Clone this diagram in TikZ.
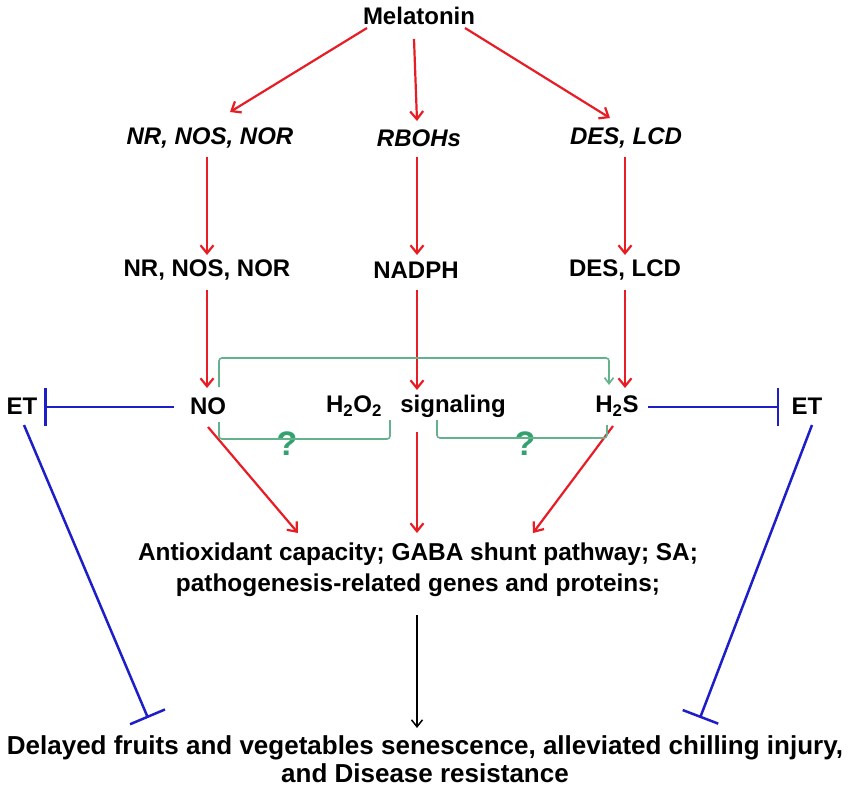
\documentclass[tikz,border=0pt]{standalone}
\usepackage{fontspec}
\setmainfont{Liberation Sans}
\usetikzlibrary{arrows.meta,calc}
\definecolor{rr}{RGB}{232,28,36}
\definecolor{bb}{RGB}{30,30,200}
\definecolor{gg}{RGB}{100,178,140}
\definecolor{gq}{RGB}{52,162,112}
\begin{document}
\begin{tikzpicture}[x=1pt,y=-1pt,
  txt/.style={font=\fontsize{24}{31}\selectfont\bfseries, inner sep=0pt},
  itx/.style={font=\fontsize{24}{28}\selectfont\bfseries\itshape, inner sep=0pt},
  ra/.style={draw=rr, line width=2.2pt, -{Straight Barb[length=8pt,width=13pt]}},
  ka/.style={draw=black, line width=1.5pt, -{Straight Barb[length=7pt,width=11pt]}},
  ib/.style={draw=bb, line width=2.5pt, -{Bar[width=38pt]}},
  gl/.style={draw=gg, line width=1.6pt, rounded corners=3pt},
  qm/.style={font=\fontsize{34}{34}\selectfont\bfseries, text=gq, inner sep=0pt}]
\useasboundingbox (0,0) rectangle (851,792);
% nodes
\node[txt] (mel) at (419,16) {Melatonin};
\node[itx] (g1) at (210,138) {NR, NOS, NOR};
\node[itx] (g2) at (419,138) {RBOHs};
\node[itx] (g3) at (626,138) {DES, LCD};
\node[txt] (p1) at (207,270) {NR, NOS, NOR};
\node[txt] (p2) at (416,270) {NADPH};
\node[txt] (p3) at (625,270) {DES, LCD};
\node[txt] (etl) at (22,406) {ET};
\node[txt] (no) at (208,406) {NO};
\node[txt] (h2o2) at (354,406) {H\textsubscript{2}O\textsubscript{2}};
\node[txt] (sig) at (453,406) {signaling};
\node[txt] (h2s) at (617,406) {H\textsubscript{2}S};
\node[txt] (etr) at (807,406) {ET};
\node[txt, font=\fontsize{24.4}{31}\selectfont\bfseries, align=center] (anti) at (418,570) {Antioxidant capacity; GABA shunt pathway; SA;\\ pathogenesis-related genes and proteins;};
\node[font=\fontsize{26}{28}\selectfont\bfseries, inner sep=0pt, align=center] (fin) at (425,759)
  {Delayed fruits and vegetables senescence, alleviated chilling injury,\\
   and Disease resistance};
\node[qm] (q1) at (287,444) {?};
\node[qm] (q2) at (525,444) {?};
% red arrows
\draw[ra] ($(mel)+(-52,12)$) -- ($(g1)+(20,-26)$);
\draw[ra] ($(mel)+(-5,23)$) -- ($(g2)+(-2,-17)$);
\draw[ra] ($(mel)+(46,12)$) -- ($(g3)+(-16,-20)$);
\draw[ra] ($(g1)+(-3,19)$) -- ($(p1)+(0,-15)$);
\draw[ra] ($(g2)+(-2,19)$) -- ($(p2)+(1,-15)$);
\draw[ra] ($(g3)+(-1,19)$) -- ($(p3)+(0,-15)$);
\draw[ra] ($(p1)+(0,20)$) -- ($(no)+(-1,-18)$);
\draw[ra] ($(p2)+(1,20)$) -- ($(sig)+(-36,-16)$);
\draw[ra] ($(p3)+(0,20)$) -- ($(h2s)+(8,-18)$);
\draw[ra] ($(no)+(0,21)$) -- ($(anti)+(-120,-37)$);
\draw[ra] ($(sig)+(-36,26)$) -- ($(anti)+(-1,-37)$);
\draw[ra] ($(h2s)+(-4,20)$) -- ($(anti)+(115,-37)$);
% black arrow
\draw[ka] ($(anti)+(-1,45)$) -- ($(fin)+(-8,-31)$);
% inhibition lines
\draw[ib] ($(no)+(-34,1)$) -- ($(etl)+(22,1)$);
\draw[ib] ($(h2s)+(31,1)$) -- ($(etr)+(-28,1)$);
\draw[ib] ($(etl)+(2,19)$) -- ($(fin)+(-277,-41)$);
\draw[ib] ($(etr)+(5,19)$) -- ($(fin)+(275,-41)$);
% green brackets
\draw[gl, -{Straight Barb[length=6pt,width=9pt]}] ($(no)+(11,-19)$) -- ($(no)+(11,-48)$) -- ($(h2s)+(-8,-48)$) -- ($(h2s)+(-8,-21)$);
\draw[gl] ($(no)+(11,16)$) -- ($(no)+(11,33)$) -- ($(h2o2)+(36,33)$) -- ($(h2o2)+(36,14)$);
\draw[gl] ($(sig)+(-16,14)$) -- ($(sig)+(-16,32)$) -- ($(h2s)+(-10,32)$) -- ($(h2s)+(-10,19)$);
\end{tikzpicture}
\end{document}
